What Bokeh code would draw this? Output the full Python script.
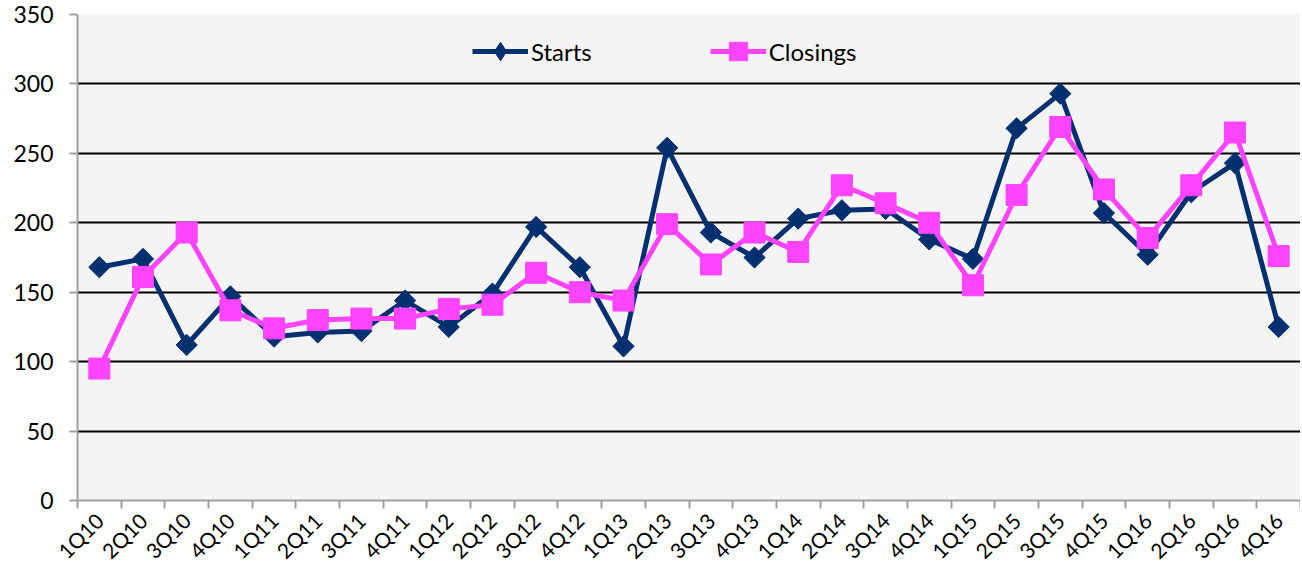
import math
from bokeh.plotting import figure
from bokeh.models import (ColumnDataSource, Range1d, FixedTicker, Legend, LegendItem)
from bokeh.embed import file_html
from bokeh.resources import INLINE

categories = ["1Q10", "2Q10", "3Q10", "4Q10", "1Q11", "2Q11", "3Q11", "4Q11",
              "1Q12", "2Q12", "3Q12", "4Q12", "1Q13", "2Q13", "3Q13", "4Q13",
              "1Q14", "2Q14", "3Q14", "4Q14", "1Q15", "2Q15", "3Q15", "4Q15",
              "1Q16", "2Q16", "3Q16", "4Q16"]
starts = [168, 174, 112, 147, 118, 121, 122, 144, 125, 149, 197, 168, 111, 254,
          193, 175, 203, 209, 210, 188, 174, 268, 293, 207, 177, 222, 243, 125]
closings = [95, 161, 193, 137, 124, 130, 131, 131, 138, 141, 164, 150, 144, 199,
            170, 193, 179, 227, 214, 200, 155, 220, 269, 224, 189, 227, 265, 176]
y_ticks = [0, 50, 100, 150, 200, 250, 300, 350]

n = len(categories)
xs = [i + 0.5 for i in range(n)]
src = ColumnDataSource(dict(x=xs, cat=categories, starts=starts, closings=closings))

NAVY = "#003070"
MAGENTA = "#ff44ff"
FONT = "Lato"

p = figure(width=1300, height=574, output_backend="svg", toolbar_location=None,
           x_range=Range1d(0, n), y_range=Range1d(0, 350),
           min_border_left=77, min_border_right=0, min_border_top=14,
           min_border_bottom=69)
p.background_fill_color = "#f4f4f4"
p.border_fill_color = "white"
p.outline_line_color = None

# grid
p.xgrid.grid_line_color = None
p.ygrid.ticker = FixedTicker(ticks=y_ticks[1:])
p.ygrid.grid_line_color = "black"
p.ygrid.grid_line_width = 2

# y axis
p.yaxis.ticker = FixedTicker(ticks=y_ticks)
p.yaxis.axis_line_color = "#a0a0a0"
p.yaxis.axis_line_width = 2
p.yaxis.major_tick_line_color = "#a0a0a0"
p.yaxis.major_tick_line_width = 2
p.yaxis.major_tick_out = 8
p.yaxis.major_tick_in = 0
p.yaxis.minor_tick_line_color = None
p.yaxis.major_label_text_font = FONT
p.yaxis.major_label_text_font_size = "23px"
p.yaxis.major_label_text_color = "black"
p.yaxis.major_label_standoff = 16

# x axis
p.xaxis.ticker = FixedTicker(ticks=xs, minor_ticks=list(range(n + 1)))
p.xaxis.major_label_overrides = {x: c for x, c in zip(xs, categories)}
p.xaxis.axis_line_color = "#a0a0a0"
p.xaxis.axis_line_width = 2
p.xaxis.major_tick_line_color = None
p.xaxis.minor_tick_line_color = "#a0a0a0"
p.xaxis.minor_tick_line_width = 2
p.xaxis.minor_tick_out = 8
p.xaxis.minor_tick_in = 0
p.xaxis.major_label_orientation = math.pi / 4
p.xaxis.major_label_text_font = FONT
p.xaxis.major_label_text_font_size = "21px"
p.xaxis.major_label_text_color = "black"
p.xaxis.major_label_standoff = 8

# series
l1 = p.line("x", "starts", source=src, line_color=NAVY, line_width=5)
# narrower diamond used as the legend symbol (hidden beneath the chart markers)
m1_leg = p.scatter("x", "starts", source=src, marker="diamond", size=19,
                   fill_color=NAVY, line_color=NAVY)
m1 = p.scatter("x", "starts", source=src, marker="square", angle=math.pi / 4,
               size=15, fill_color=NAVY, line_color=NAVY)
l2 = p.line("x", "closings", source=src, line_color=MAGENTA, line_width=5)
m2 = p.scatter("x", "closings", source=src, marker="square", size=21,
               fill_color=MAGENTA, line_color=MAGENTA)

legend = Legend(items=[LegendItem(label="Starts", renderers=[l1, m1_leg]),
                       LegendItem(label="Closings", renderers=[l2, m2])],
                orientation="horizontal", location=(395, 426),
                padding=0, margin=0, spacing=118, glyph_width=56,
                glyph_height=46, label_height=46, label_standoff=3,
                border_line_color=None, background_fill_alpha=0)
legend.label_text_font = FONT
legend.label_text_font_size = "24px"
legend.label_text_color = "black"
p.add_layout(legend)

open("out.html", "w").write(file_html(p, INLINE))
